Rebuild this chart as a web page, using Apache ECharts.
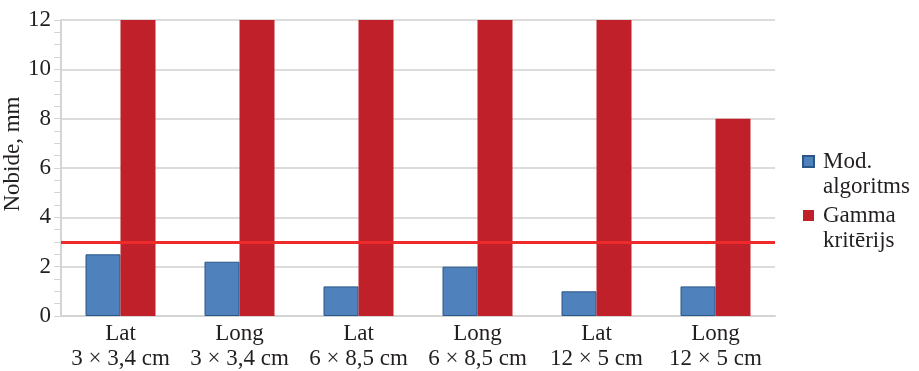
<!DOCTYPE html>
<html>
<head>
<meta charset="utf-8">
<script src="https://cdn.jsdelivr.net/npm/echarts@6/dist/echarts.min.js"></script>
<style>
  html, body { margin: 0; padding: 0; background: #fff; }
  #chart { width: 919px; height: 371px; }
</style>
</head>
<body>
<div id="chart"></div>
<script>
const categories = [
  'Lat\n3 × 3,4 cm', 'Long\n3 × 3,4 cm',
  'Lat\n6 × 8,5 cm', 'Long\n6 × 8,5 cm',
  'Lat\n12 × 5 cm', 'Long\n12 × 5 cm'
];
const modAlgoritms = [2.5, 2.2, 1.2, 2.0, 1.0, 1.2];
const gammaKriterijs = [12, 12, 12, 12, 12, 8];
const threshold = 3;
const seriesNames = ['Mod.\nalgoritms', 'Gamma\nkritērijs'];

const FONT = 'Liberation Serif';
const TEXT = '#231f20';
// square legend marker sitting level with the first text line
const legendIcon = 'path://M0,0H11V11H0Z M0,36Z';

const chart = echarts.init(document.getElementById('chart'));
chart.setOption({
  animation: false,
  textStyle: { fontFamily: FONT },
  grid: { left: 61, right: 144, top: 20, bottom: 55, containLabel: false, outerBoundsMode: 'none' },
  legend: {
    orient: 'vertical',
    left: 797, top: 144,
    icon: legendIcon,
    itemWidth: 11, itemHeight: 36, itemGap: 4,
    textStyle: { fontFamily: FONT, fontSize: 23, color: TEXT, lineHeight: 25, padding: [0, 0, 0, 4] },
    data: seriesNames
  },
  xAxis: {
    type: 'category',
    data: categories,
    axisLine: { lineStyle: { color: '#d4d4d4', width: 2 } },
    axisTick: { show: false },
    axisLabel: { interval: 0, fontFamily: FONT, fontSize: 23, color: TEXT, lineHeight: 25, margin: 5 }
  },
  yAxis: {
    type: 'value',
    min: 0, max: 12, interval: 2,
    name: 'Nobide, mm',
    nameLocation: 'middle',
    nameGap: 37,
    nameRotate: 90,
    nameMoveOverlap: false,
    nameTextStyle: { fontFamily: FONT, fontSize: 23, color: TEXT, padding: [0, 0, 0, 28] },
    axisLine: { show: true, lineStyle: { color: '#d4d4d4', width: 2 } },
    axisTick: { show: true, length: 7, lineStyle: { color: '#d4d4d4' } },
    minorTick: { show: true, splitNumber: 4, length: 7, lineStyle: { color: '#d4d4d4' } },
    splitLine: { lineStyle: { color: '#dcdcdc', width: 2 } },
    axisLabel: { fontFamily: FONT, fontSize: 23, color: TEXT, margin: 10 }
  },
  series: [
    {
      name: seriesNames[0],
      type: 'bar',
      data: modAlgoritms,
      barWidth: 35,
      barGap: '0%',
      itemStyle: { color: '#4f81bd', borderColor: '#2a5788', borderWidth: 1 }
    },
    {
      name: seriesNames[1],
      type: 'bar',
      data: gammaKriterijs,
      barWidth: 35,
      barGap: '0%',
      itemStyle: { color: '#c0202a' },
      markLine: {
        silent: true,
        symbol: 'none',
        label: { show: false },
        lineStyle: { color: '#ee2a2a', width: 3, type: 'solid' },
        data: [{ yAxis: threshold }]
      }
    }
  ]
});
</script>
</body>
</html>
